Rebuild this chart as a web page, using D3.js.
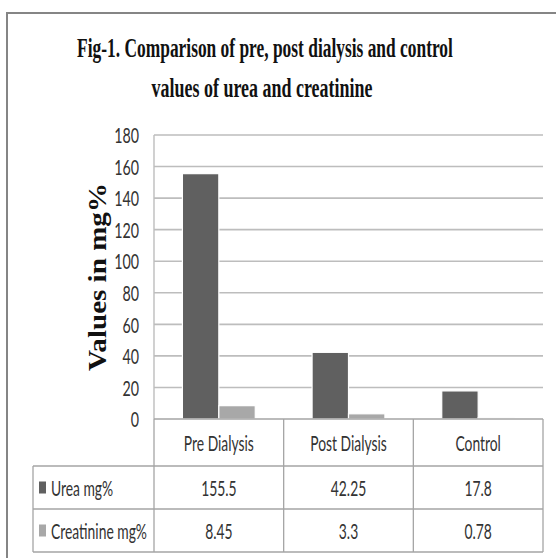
<!DOCTYPE html>
<html>
<head>
<meta charset="utf-8">
<script src="https://cdn.jsdelivr.net/npm/d3@7"></script>
<style>
  body { margin: 0; background: #fff; }
  svg { display: block; }
</style>
</head>
<body>
<svg id="chart" width="556" height="558"></svg>
<script>
// data
const categories = ['Pre Dialysis', 'Post Dialysis', 'Control'];
const series = ['Urea mg%', 'Creatinine mg%'];
const urea = [155.5, 42.25, 17.8];
const creatinine = [8.45, 3.3, 0.78];
const ureaLabels = ['155.5', '42.25', '17.8'];
const creatinineLabels = ['8.45', '3.3', '0.78'];
const yTicks = [0, 20, 40, 60, 80, 100, 120, 140, 160, 180];

const colors = { 'Urea mg%': '#606060', 'Creatinine mg%': '#a8a8a8' };
const rows = [
  { name: series[0], values: urea, labels: ureaLabels },
  { name: series[1], values: creatinine, labels: creatinineLabels }
];

const svg = d3.select('#chart');
const textFont = 'Lato, "Open Sans", sans-serif';
const serif = '"Liberation Serif", "Times New Roman", serif';
const sx = 0.63; // text looks squeezed horizontally in the original

// helper for squeezed text
const squeezed = (parent, x, y, str, opts = {}) => parent.append('text')
  .attr('transform', `translate(${x},${y}) scale(${opts.sx || sx},1)`)
  .attr('text-anchor', opts.anchor || 'middle')
  .attr('dominant-baseline', 'central')
  .attr('font-family', opts.font || textFont)
  .attr('font-size', opts.size || 22)
  .attr('fill', opts.fill || '#333')
  .text(str);

// text fitted to a given width (scaled, so its box stays honest)
const fitted = (x, y, str, width, size, rot) => {
  const t = svg.append('text')
    .attr('text-anchor', 'middle')
    .attr('font-family', serif)
    .attr('font-weight', 'bold')
    .attr('font-size', size)
    .attr('fill', '#111')
    .text(str);
  const k = width / t.node().getComputedTextLength();
  t.attr('transform', `translate(${x},${y})` + (rot ? ` rotate(${rot})` : '') + ` scale(${k},1)`);
  return t;
};

// outer frame
svg.append('rect')
  .attr('x', 7).attr('y', 13)
  .attr('width', 600).attr('height', 600)
  .attr('fill', 'none')
  .attr('stroke', '#858585')
  .attr('stroke-width', 2);

// title
fitted(265, 57, 'Fig-1. Comparison of pre, post dialysis and control', 376, 28);
fitted(262, 97, 'values of urea and creatinine', 221, 28);

// scales
const plotLeft = 154, plotRight = 543, plotTop = 135, plotBottom = 419;
const x0 = d3.scaleBand().domain(categories).range([plotLeft, plotRight]);
const x1 = d3.scaleBand().domain(series).range([0, x0.bandwidth()]).paddingOuter(0.78);
const y = d3.scaleLinear().domain([0, 180]).range([plotBottom, plotTop]);

// gridlines
svg.append('g')
  .selectAll('line').data(yTicks.filter(d => d > 0))
  .enter().append('line')
    .attr('x1', plotLeft).attr('x2', plotRight)
    .attr('y1', d => y(d)).attr('y2', d => y(d))
    .attr('stroke', '#bdbdbd')
    .attr('stroke-width', 1.6);

// y axis line
svg.append('line')
  .attr('x1', plotLeft).attr('x2', plotLeft)
  .attr('y1', plotTop).attr('y2', plotBottom)
  .attr('stroke', '#bdbdbd').attr('stroke-width', 1.4);

// y tick labels
yTicks.forEach(t => squeezed(svg, 139, y(t), String(t), { anchor: 'end', size: 21, sx: 0.68 }));

// y axis title
fitted(106, 277, 'Values in mg%', 188, 25, -90);

// bars
const groups = svg.append('g')
  .selectAll('g').data(categories)
  .enter().append('g')
    .attr('transform', d => `translate(${x0(d)},0)`);

groups.selectAll('rect')
  .data((d, i) => rows.map(r => ({ key: r.name, value: r.values[i] })))
  .enter().append('rect')
    .attr('x', d => x1(d.key))
    .attr('y', d => y(d.value))
    .attr('width', x1.bandwidth())
    .attr('height', d => plotBottom - y(d.value))
    .attr('fill', d => colors[d.key])
    .attr('stroke', '#fff')
    .attr('stroke-width', 1.2);

// data table
const rowY = [plotBottom, 466, 509, 552];
const legendLeft = 33;
const table = svg.append('g')
  .attr('stroke', '#a5a5a5')
  .attr('stroke-width', 1.3);

// baseline of plot / top of table
table.append('line')
  .attr('x1', plotLeft).attr('x2', plotRight)
  .attr('y1', plotBottom).attr('y2', plotBottom);
// horizontal row lines
[rowY[1], rowY[2], rowY[3]].forEach(yy => table.append('line')
  .attr('x1', legendLeft).attr('x2', plotRight)
  .attr('y1', yy).attr('y2', yy));
// vertical lines
const colEdges = categories.map(c => x0(c)).concat([plotRight]);
colEdges.forEach(xx => table.append('line')
  .attr('x1', xx).attr('x2', xx)
  .attr('y1', plotBottom).attr('y2', rowY[3]));
table.append('line')
  .attr('x1', legendLeft).attr('x2', legendLeft)
  .attr('y1', rowY[1]).attr('y2', rowY[3]);

// header text
categories.forEach(c => squeezed(svg, x0(c) + x0.bandwidth() / 2, (rowY[0] + rowY[1]) / 2, c));

// rows
rows.forEach((r, ri) => {
  const cy = (rowY[ri + 1] + rowY[ri + 2]) / 2;
  svg.append('rect')
    .attr('x', 39).attr('y', cy - 6)
    .attr('width', 7).attr('height', 12)
    .attr('fill', colors[r.name]);
  squeezed(svg, 51, cy, r.name, { anchor: 'start' });
  categories.forEach((c, ci) => squeezed(svg, x0(c) + x0.bandwidth() / 2, cy, r.labels[ci]));
});
</script>
</body>
</html>
